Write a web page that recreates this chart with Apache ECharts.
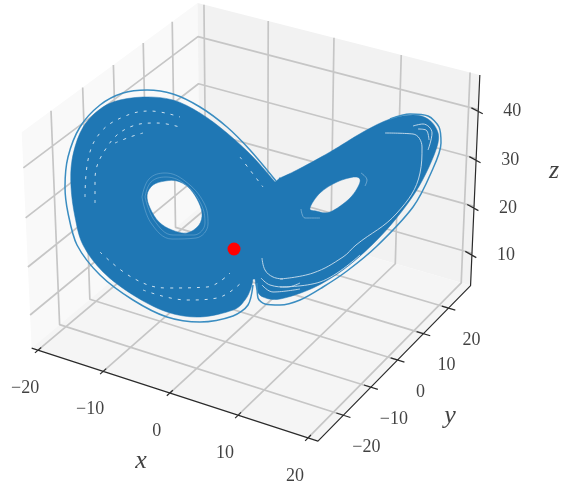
<!DOCTYPE html>
<html>
<head>
<meta charset="utf-8">
<style>
  html, body { margin: 0; padding: 0; background: #fff; }
  #chart { width: 561px; height: 489px; filter: blur(0.4px); }
</style>
<script src="https://cdn.jsdelivr.net/npm/echarts@6/dist/echarts.min.js"></script>
</head>
<body>
<div id="chart"></div>
<script>
// axis ticks and limits
const xTicks = [-20, -10, 0, 10, 20];
const yTicks = [-20, -10, 0, 10, 20];
const zTicks = [10, 20, 30, 40];
const xLim = [-21, 21.4];
const yLim = [-29, 29];
const zLim = [3, 47];

// attractor, in view coordinates (px of the photo)
const wingEdge = [
  [275, 182], [275, 182], [253, 157], [227, 133], [200, 113], [173, 100], [143, 97], [113, 102], [93, 115], [80, 133],
  [72, 160], [71, 187], [75, 217], [83, 245], [103, 272], [133, 295], [167, 312], [200, 317], [233, 310],
  [245, 300], [251, 288], [253, 279], [253, 279], [255, 279], [255, 279], [257, 290], [263, 297], [280, 299],
  [313, 288], [343, 270], [372, 245], [395, 220], [415, 193], [429, 167], [438, 143], [437, 130], [428, 119],
  [413, 115], [390, 119], [363, 132], [330, 152], [297, 170], [280, 178], [280, 178]
];
const leftHole = [
  [165, 181], [177, 181], [188, 187], [197, 199], [202, 213], [199, 225], [187, 233], [172, 230],
  [159, 222], [150, 208], [147, 195], [153, 185]
];
const rightHole = [[310, 208], [320, 193], [337, 182], [355, 177], [360, 182], [350, 198], [330, 212], [316, 211]];

const leftOuter = [
  [276, 181], [250, 150], [227, 127], [200, 107], [173, 94], [147, 90], [123, 93], [100, 105], [80, 127],
  [68, 157], [65, 187], [68, 213], [77, 245], [100, 275], [133, 300], [167, 317], [200, 322], [233, 316],
  [248, 305], [253, 285]
];
const rightOuter = [
  [257, 283], [258, 298], [265, 304], [280, 305], [300, 300], [323, 287], [347, 271], [377, 246], [413, 207],
  [431, 173], [441, 143], [439, 127], [428, 116], [410, 114], [390, 119]
];
const leftHoleRing = [
  [142, 197], [149, 179], [165, 173], [185, 181], [204, 203], [208, 224], [196, 238], [172, 239], [151, 223], [142, 197]
];
const leftHoleRing2 = [
  [145, 197], [151, 182], [166, 177], [186, 185], [201, 204], [205, 223], [194, 235], [173, 235], [154, 220], [145, 197]
];
const rightHoleArcA = [[301, 209], [305, 218], [320, 218]];
const rightHoleArcB = [[361, 173], [367, 180], [365, 186]];

const dashedStreaks = [
  [[85, 197], [88, 160], [100, 133], [123, 117], [150, 111], [180, 117]],
  [[95, 203], [95, 180], [107, 147], [130, 127], [157, 123], [183, 128]],
  [[115, 143], [130, 137], [143, 133]],
  [[100, 252], [133, 278], [167, 288], [207, 287], [230, 273]],
  [[143, 290], [187, 300], [217, 298], [242, 282]],
  [[240, 157], [263, 187]]
];
const solidStreaks = [
  [[262, 258], [265, 270], [273, 277], [283, 279]],
  [[261, 278], [270, 285], [287, 287], [300, 283]],
  [[262, 285], [273, 292], [300, 289]],
  [[280, 279], [313, 273], [343, 257], [356, 245], [397, 213], [420, 173], [422, 147], [413, 134], [385, 133]],
  [[280, 287], [320, 282], [360, 255]],
  [[413, 126], [423, 124], [432, 133], [428, 150]],
  [[418, 129], [426, 130], [429, 140]]
];
const startPoint = [234, 249];

// same camera as a default mplot3d axes (elev 30, azim -60, dist 10)
const blue = '#1f77b4';
const box = [1.1428, 1.1428, 0.8571];
const eyeDir = [0.433, -0.75, 0.5];
const camU = [0.866, 0.5, 0];
const camV = [-0.25, 0.433, 0.866];
const viewA = 255, viewC = 212, viewB = 2871;

function dot(a, b) { return a[0] * b[0] + a[1] * b[1] + a[2] * b[2]; }

function project(x, y, z) {
  const q = [
    ((x - xLim[0]) / (xLim[1] - xLim[0]) - 0.5) * box[0],
    ((y - yLim[0]) / (yLim[1] - yLim[0]) - 0.5) * box[1],
    ((z - zLim[0]) / (zLim[1] - zLim[0]) - 0.5) * box[2]
  ];
  const d = 10 - dot(eyeDir, q);
  return [viewA + viewB * dot(camU, q) / d, viewC - viewB * dot(camV, q) / d];
}

const [x0, x1] = xLim, [y0, y1] = yLim, [z0, z1] = zLim;

// ====== panes and grid ======
const panes = [
  { color: '#f9f9f9', pts: [project(x0, y0, z0), project(x0, y0, z1), project(x0, y1, z1), project(x0, y1, z0)] },
  { color: '#f2f2f2', pts: [project(x0, y1, z0), project(x0, y1, z1), project(x1, y1, z1), project(x1, y1, z0)] },
  { color: '#f5f5f5', pts: [project(x0, y0, z0), project(x1, y0, z0), project(x1, y1, z0), project(x0, y1, z0)] }
];

const gridLine = [];
xTicks.forEach(t => gridLine.push(project(t, y0, z0), project(t, y1, z0), project(t, y1, z1), null));
yTicks.forEach(t => gridLine.push(project(x1, t, z0), project(x0, t, z0), project(x0, t, z1), null));
zTicks.forEach(t => gridLine.push(project(x0, y0, t), project(x0, y1, t), project(x1, y1, t), null));

const axisLine = [
  project(x0, y0, z0), project(x1, y0, z0), project(x1, y1, z0), project(x1, y1, z1), null
];
xTicks.forEach(t => axisLine.push(project(t, y0 + 1, z0), project(t, y0 - 1, z0), null));
yTicks.forEach(t => axisLine.push(project(x1 - 1, t, z0), project(x1 + 1, t, z0), null));
zTicks.forEach(t => axisLine.push(project(x1 - 1, y1, t), project(x1 + 1, y1 - 1, t), null));

function fmt(v) { return v < 0 ? '\u2212' + Math.abs(v) : String(v); }

function tickLabels(ticks, toPoint, offset) {
  return {
    type: 'scatter', symbolSize: 0, silent: true, z: 8,
    data: ticks.map(t => ({ value: toPoint(t), name: fmt(t) })),
    label: {
      show: true, position: 'inside', offset: offset, formatter: '{b}',
      fontFamily: 'Liberation Serif', fontSize: 18, color: '#111'
    }
  };
}

function axisName(name, point) {
  return {
    type: 'scatter', symbolSize: 0, silent: true, z: 8,
    data: [{ value: point, name: name }],
    label: {
      show: true, position: 'inside', formatter: '{b}',
      fontFamily: 'Liberation Serif', fontStyle: 'italic', fontSize: 26, color: '#111'
    }
  };
}

function plainLine(data, color, width, z, extra) {
  return Object.assign({
    type: 'line', data: data, symbol: 'none', silent: true, z: z, connectNulls: false,
    lineStyle: { color: color, width: width }
  }, extra || {});
}

// closed outline through the read points (catmull-rom as beziers)
function ringPath(api, ring) {
  const p = ring.map(v => api.coord(v));
  const n = p.length;
  let d = 'M' + p[0][0] + ' ' + p[0][1];
  for (let i = 0; i < n; i++) {
    const a = p[(i + n - 1) % n], b = p[i], c = p[(i + 1) % n], e = p[(i + 2) % n];
    d += 'C' + (b[0] + (c[0] - a[0]) / 6) + ' ' + (b[1] + (c[1] - a[1]) / 6) + ' '
      + (c[0] - (e[0] - b[0]) / 6) + ' ' + (c[1] - (e[1] - b[1]) / 6) + ' ' + c[0] + ' ' + c[1];
  }
  return d + 'Z';
}

const series = [];
panes.forEach(pane => {
  series.push({
    type: 'custom', silent: true, z: 1, data: [0],
    renderItem: (params, api) => ({
      type: 'polygon',
      shape: { points: pane.pts.map(v => api.coord(v)) },
      style: { fill: pane.color }
    })
  });
});
series.push(plainLine(gridLine, '#c6c6c6', 1.7, 2));
series.push(plainLine(axisLine, '#2b2b2b', 1.2, 3));
series.push({
  type: 'custom', silent: true, z: 4, data: [0],
  renderItem: (params, api) => ({
    type: 'path',
    shape: { pathData: ringPath(api, wingEdge) + ringPath(api, leftHole) + ringPath(api, rightHole) },
    style: { fill: blue, stroke: blue, lineWidth: 0.5 }
  })
});
[leftOuter, rightOuter].forEach(d => series.push(plainLine(d, '#3a8dc1', 1.5, 5, { smooth: 0.3 })));
[leftHoleRing, leftHoleRing2].forEach(d => series.push(plainLine(d, '#7fb2d6', 0.5, 5, { smooth: 0.4 })));
[rightHoleArcA, rightHoleArcB].forEach(d => series.push(plainLine(d, '#8fbbdb', 0.7, 5, { smooth: 0.4 })));
dashedStreaks.forEach(d => series.push(plainLine(d, '#cfe2ef', 1, 5, {
  smooth: 0.4, lineStyle: { color: '#cfe2ef', width: 1, type: [3, 6] }
})));
solidStreaks.forEach(d => series.push(plainLine(d, '#cddfec', 0.9, 5, { smooth: 0.4 })));
series.push({
  type: 'scatter', data: [startPoint], symbol: 'circle', symbolSize: 13, silent: true, z: 7,
  itemStyle: { color: '#ff0000', opacity: 1 }
});

series.push(tickLabels(xTicks, t => project(t, y0, z0), [-13, 38]));
series.push(tickLabels(yTicks, t => project(x1, t, z0), [23, 32]));
series.push(tickLabels(zTicks, t => project(x1, y1, t), [34, 2]));
series.push(axisName('x', [141, 461]));
series.push(axisName('y', [450, 416]));
series.push(axisName('z', [554, 171]));

const myChart = echarts.init(document.getElementById('chart'));
myChart.setOption({
  animation: false,
  grid: { left: 0, right: 0, top: 0, bottom: 0 },
  xAxis: { type: 'value', min: 0, max: 561, show: false },
  yAxis: { type: 'value', min: 0, max: 489, inverse: true, show: false },
  series: series
});
</script>
</body>
</html>
